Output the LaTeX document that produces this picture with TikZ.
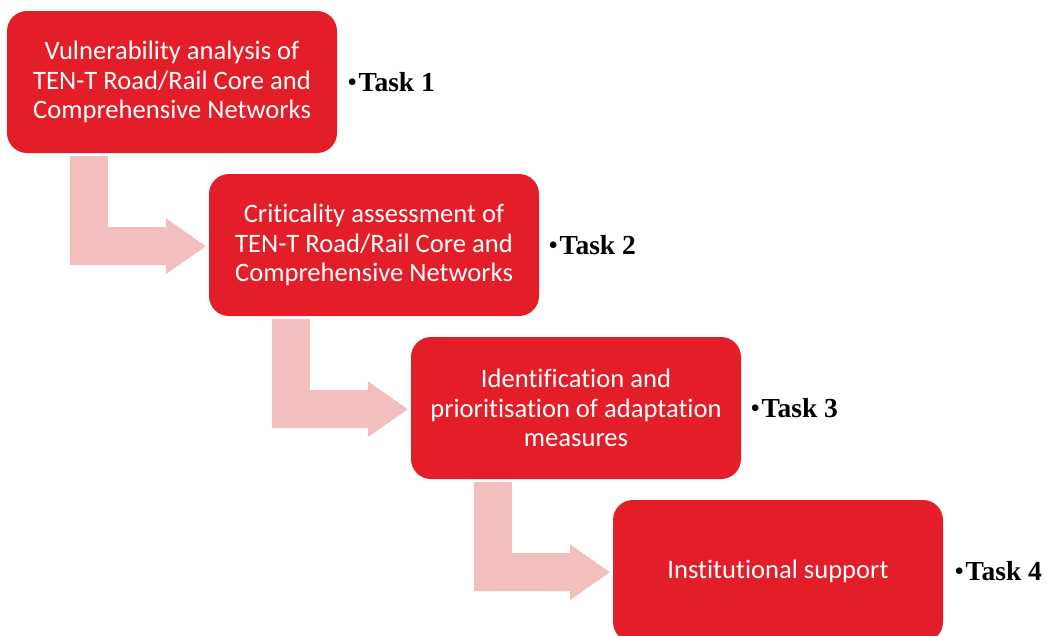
\documentclass[tikz,border=0pt]{standalone}
\usepackage{fontspec}
\newfontfamily\boxfont[Ligatures=NoCommon]{Carlito}
\newfontfamily\taskfont{Liberation Serif}
\usetikzlibrary{positioning}
\definecolor{boxred}{RGB}{228,30,40}
\definecolor{arrowpink}{RGB}{242,190,190}
\newcommand{\tasklabel}[1]{{\mdseries\fontsize{28}{30}\selectfont•}\hspace{1.5pt}Task #1}
\begin{document}
\begin{tikzpicture}[x=1pt,y=-1pt,
  box/.style={fill=boxred, draw=none, rounded corners=20pt, minimum width=330pt, minimum height=142pt,
    align=center, text=white, inner sep=0pt, font=\boxfont\fontsize{26.6}{29.5}\selectfont},
  task/.style={anchor=west, inner sep=0pt, font=\taskfont\bfseries\fontsize{27.5}{30}\selectfont},
  bentarrow/.style={fill=arrowpink, draw=none}]
\useasboundingbox (0,0) rectangle (1046,635);
\clip (0,0) rectangle (1046,635);
\node[box] (b1) at (172,82) {Vulnerability analysis of\\TEN-T Road/Rail Core and\\Comprehensive Networks};
\node[box] (b2) at (374,245) {Criticality assessment of\\TEN-T Road/Rail Core and\\Comprehensive Networks};
\node[box] (b3) at (576,408) {Identification and\\prioritisation of adaptation\\measures};
\node[box] (b4) at (778,571) {Institutional support};
\node[task] (t1) at ([xshift=10pt]b1.east) {\tasklabel{1}};
\node[task] (t2) at ([xshift=9pt]b2.east) {\tasklabel{2}};
\node[task] (t3) at ([xshift=9pt]b3.east) {\tasklabel{3}};
\node[task] (t4) at ([xshift=11pt]b4.east) {\tasklabel{4}};
\foreach \s in {b1,b2,b3}{
  \fill[bentarrow] ([shift={(63,3)}]\s.south west) -- ++(38,0) -- ++(0,71) -- ++(58,0) -- ++(0,-9)
     -- ++(40,28) -- ++(-40,28) -- ++(0,-9) -- ++(-96,0) -- cycle;
}
\end{tikzpicture}
\end{document}
